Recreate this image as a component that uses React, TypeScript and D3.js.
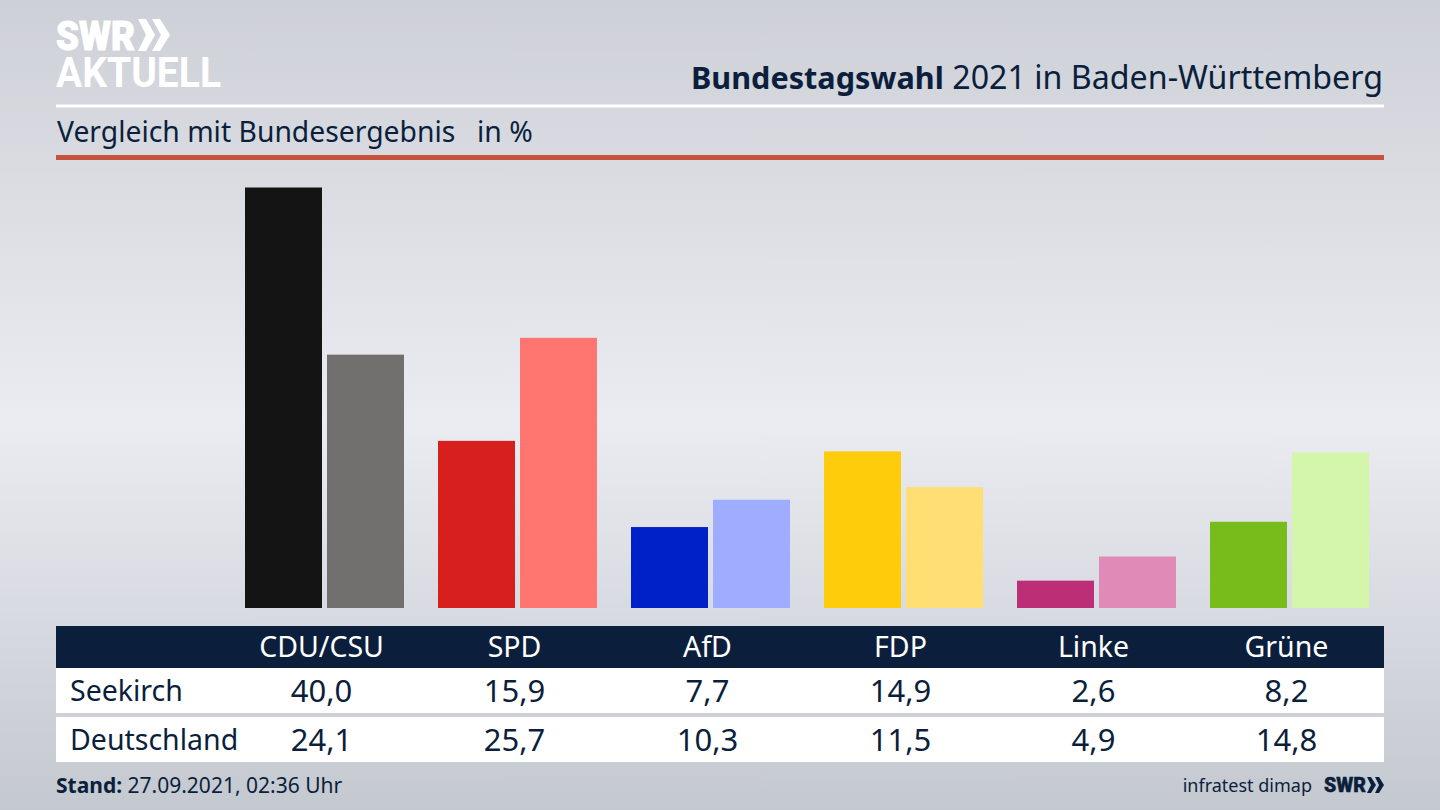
import React from "react";
import * as d3 from "d3";

const parties = ["CDU/CSU", "SPD", "AfD", "FDP", "Linke", "Grüne"];
const seekirch = [40.0, 15.9, 7.7, 14.9, 2.6, 8.2];
const deutschland = [24.1, 25.7, 10.3, 11.5, 4.9, 14.8];
const strongColors = ["#141414", "#d71f1d", "#0021c8", "#ffcc0b", "#bc2f77", "#78bc1b"];
const lightColors = ["#72706e", "#ff7570", "#9eadff", "#ffdf73", "#e08ab8", "#d3f6aa"];
const rowNames = ["Seekirch", "Deutschland"];

const width = 1440;
const height = 810;
const navy = "#0b1f3d";
const font = "'Noto Sans', sans-serif";

const fmt = (v: number) => v.toFixed(1).replace(".", ",");

const App: React.FC = () => {
  const x0 = d3
    .scaleBand<string>()
    .domain(parties)
    .range([228, 1386])
    .paddingInner(34 / 193)
    .paddingOuter(17 / 193);
  const x1 = d3
    .scaleBand<string>()
    .domain(["region", "bund"])
    .range([0, x0.bandwidth()])
    .paddingInner(5 / 82);
  const y = d3.scaleLinear().domain([0, 40]).range([608, 187.5]);

  const colX = (p: string) => (x0(p) as number) + x0.bandwidth() / 2 - 3;
  const rows = [seekirch, deutschland];
  const rowBaselines = [701, 750];
  const rowTops = [668, 717];

  return (
    <svg
      width={width}
      height={height}
      style={{ position: "absolute", left: 0, top: 0, display: "block" }}
      fontFamily={font}
    >
      <defs>
        <linearGradient id="bg" x1="0" y1="0" x2="0" y2="1">
          <stop offset="0" stopColor="#cdd0d6" />
          <stop offset="0.52" stopColor="#eaecf1" />
          <stop offset="1" stopColor="#c4c8cf" />
        </linearGradient>
      </defs>
      <rect width={width} height={height} fill="url(#bg)" />

      {/* logo */}
      <text x={56} y={50} fill="#fff" stroke="#fff" strokeWidth={1} fontFamily="Roboto, sans-serif" fontWeight={900} fontSize={40} textLength={79} lengthAdjust="spacingAndGlyphs">
        SWR
      </text>
      <path d="M138 19 L146 19 L155 35 L146 51 L138 51 L146 35 Z M152 19 L160 19 L170 35 L160 51 L152 51 L161 35 Z" fill="#fff" />
      <text x={56} y={87} fill="#fff" fontFamily="Roboto, sans-serif" fontWeight={700} fontSize={42} textLength={165} lengthAdjust="spacingAndGlyphs">
        AKTUELL
      </text>

      {/* header */}
      <text x={1383} y={89} textAnchor="end" fill={navy} fontSize={32.2}>
        <tspan fontWeight={700} fontSize={30.6}>Bundestagswahl</tspan> 2021 in Baden-Württemberg
      </text>
      <rect x={56} y={104.5} width={1328} height={3} fill="#fff" />
      <text x={57} y={142} fill={navy} fontSize={28.3}>
        Vergleich mit Bundesergebnis
      </text>
      <text x={477} y={142} fill={navy} fontSize={28.3}>
        in %
      </text>
      <rect x={56} y={155} width={1328} height={5} fill="#c6513f" />

      {/* bars */}
      {parties.map((p, i) => (
        <g key={p} transform={`translate(${x0(p)},0)`}>
          <rect x={x1("region")} y={y(seekirch[i])} width={x1.bandwidth()} height={y(0) - y(seekirch[i])} fill={strongColors[i]} />
          <rect x={x1("bund")} y={y(deutschland[i])} width={x1.bandwidth()} height={y(0) - y(deutschland[i])} fill={lightColors[i]} />
        </g>
      ))}

      {/* table */}
      <rect x={56} y={626} width={1328} height={42} fill={navy} />
      {rowTops.map((t) => (
        <rect key={t} x={56} y={t} width={1328} height={45} fill="#fff" />
      ))}
      {parties.map((p) => (
        <text key={p} x={colX(p)} y={657} textAnchor="middle" fill="#fff" fontSize={28.5}>
          {p}
        </text>
      ))}
      {rowNames.map((name, r) => (
        <g key={name}>
          <text x={70} y={rowBaselines[r]} fill={navy} fontSize={28.5}>
            {name}
          </text>
          {parties.map((p, i) => (
            <text key={p} x={colX(p)} y={rowBaselines[r] + 1} textAnchor="middle" fill={navy} fontSize={31}>
              {fmt(rows[r][i])}
            </text>
          ))}
        </g>
      ))}

      {/* footer */}
      <text x={56} y={793} fill={navy} fontSize={21}>
        <tspan fontWeight={700}>Stand:</tspan> 27.09.2021, 02:36 Uhr
      </text>
      <text x={1312} y={792} textAnchor="end" fill={navy} fontSize={18}>
        infratest dimap
      </text>
      <text x={1324} y={792} fill={navy} stroke={navy} strokeWidth={0.5} fontFamily="Roboto, sans-serif" fontWeight={900} fontSize={21} textLength={42} lengthAdjust="spacingAndGlyphs">
        SWR
      </text>
      <path d="M1367 777 L1371 777 L1376 785 L1371 793 L1367 793 L1371 785 Z M1375 777 L1379 777 L1384 785 L1379 793 L1375 793 L1379 785 Z" fill={navy} />
    </svg>
  );
};

export default App;
